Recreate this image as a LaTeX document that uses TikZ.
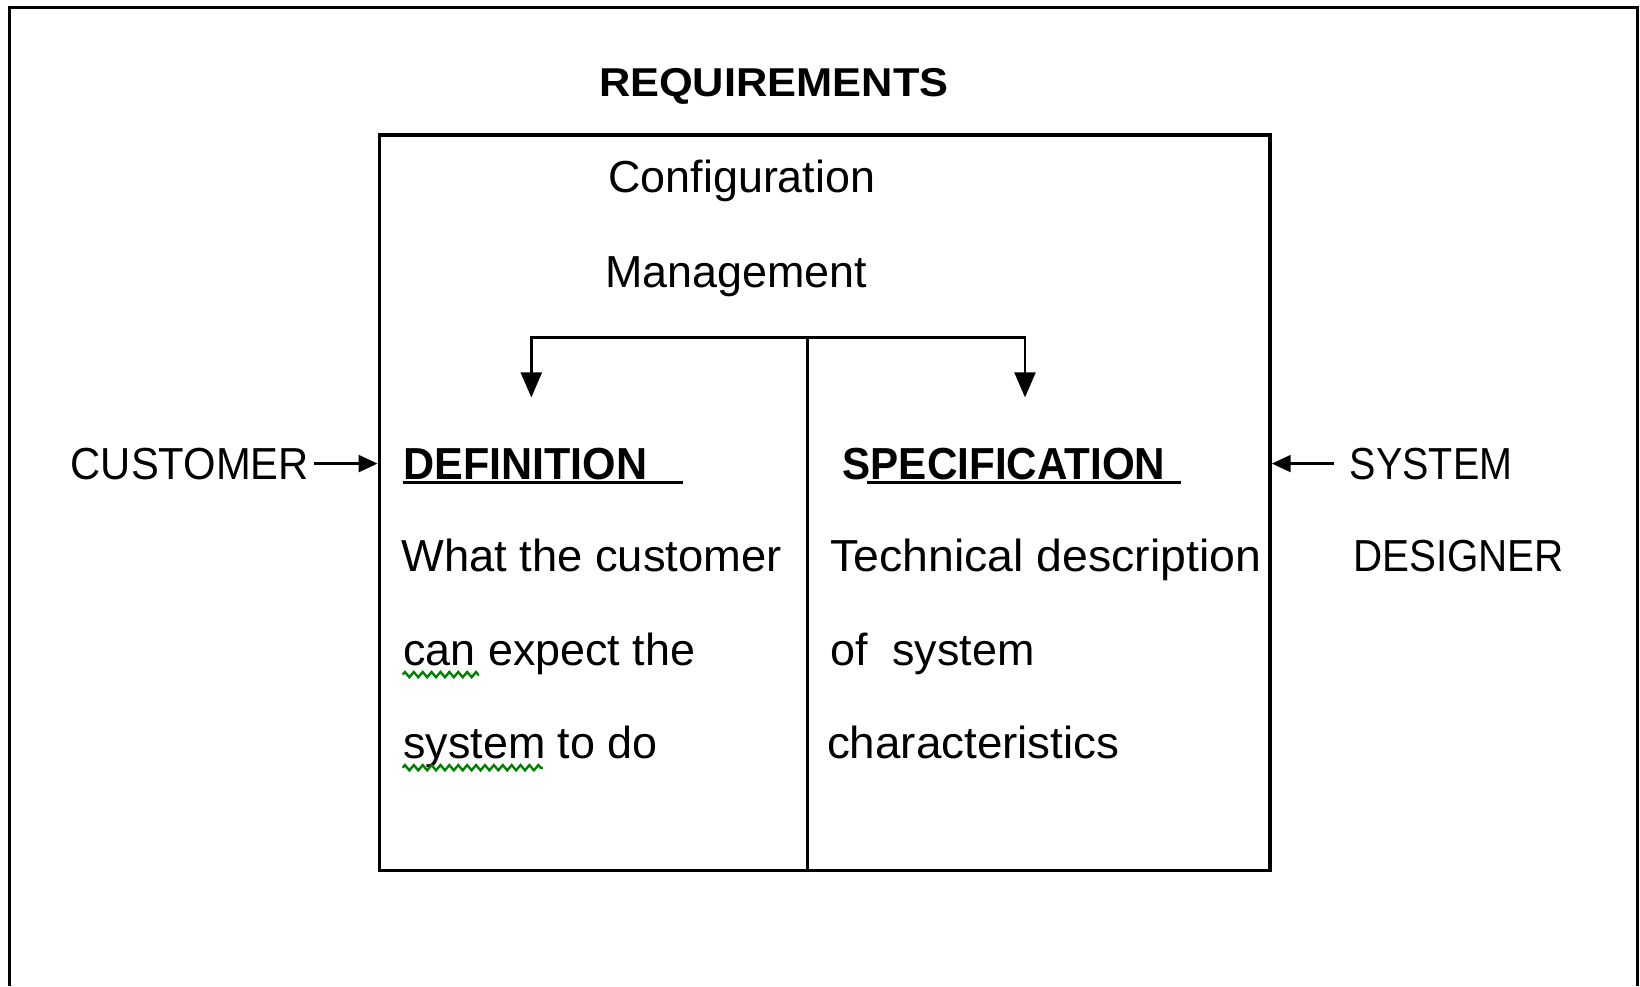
\documentclass[tikz,border=0pt]{standalone}
\usepackage{fontspec}
\setmainfont{Liberation Sans}
\usetikzlibrary{arrows.meta,decorations.pathmorphing}
\begin{document}
\begin{tikzpicture}[x=0.01cm,y=-0.01cm,
  txt/.style={anchor=base west, inner sep=0pt, font=\fontsize{12.2pt}{14pt}\selectfont},
  hd/.style={anchor=base west, inner sep=0pt, font=\fontsize{12.2pt}{14pt}\selectfont\bfseries},
  frame/.style={line width=0.85pt},
  boxline/.style={line width=1pt},
  divline/.style={line width=0.6pt},
  link/.style={line width=0.75pt},
  uline/.style={line width=0.8pt},
  tipbig/.style={-{Triangle[length=0.24cm,width=0.2cm]}},
  tipside/.style={-{Triangle[length=0.18cm,width=0.16cm]}},
  squiggle/.style={draw=green!50!black, line width=0.65pt, decorate,
    decoration={zigzag, segment length=0.085cm, amplitude=0.025cm}}]
\useasboundingbox (0,0) rectangle (1568,943);

% open page frame (no bottom edge)
\draw[frame] (9,943) -- (9,7) -- (1566,7) -- (1566,943);

% requirements box and its centre divider
\node (req) [draw, boxline, inner sep=0pt, anchor=north west,
  minimum width=8.51cm, minimum height=7.03cm] at (361,127) {};
\coordinate (split) at (772,323);
\draw[divline] (split) -- (split |- req.south);

% title and heading
\node[anchor=base west, inner sep=0pt, font=\fontsize{10.95pt}{13pt}\selectfont\bfseries]
  (title) at (572,92) {\scalebox{1.077}[1]{REQUIREMENTS}};
\node[txt] (conf) at (581,184) {Configuration};
\node[txt] (mgmt) at (578,275) {Management};

% branching arrows into both halves
\coordinate (defin) at (508,380);
\coordinate (specin) at (980,380);
\draw[link,tipbig] (split) -| (defin);
\draw[link,tipbig] (split) -| (specin);

% left half: definition
\node[hd] (def) at (385,458) {\scalebox{0.96}[1]{DEFINITION}};
\draw[uline] (385,461) -- (653,461);
\node[txt] (d1) at (383,546) {\scalebox{1.01}[1]{What the customer}};
\node[txt] (d2) at (385,636) {can expect the};
\node[txt] (d3) at (385,725) {system to do};
\draw[squiggle] (385,645) -- (458,645);
\draw[squiggle] (385,734) -- (519,734);

% right half: specification
\node[hd] (spec) at (805,458) {\scalebox{0.94}[1]{SPECIFICATION}};
\draw[uline] (829,461) -- (1129,461);
\node[txt] (s1) at (793,546) {\scalebox{1.035}[1]{Technical description}};
\node[txt] (s2) at (793,636) {of\ \ system};
\node[txt] (s3) at (790,725) {\scalebox{1.02}[1]{characteristics}};

% outside parties
\node[txt] (cust) at (67,458) {\scalebox{0.93}[1]{CUSTOMER}};
\draw[link,tipside,shorten <=0.04cm] (cust.east) -- (cust.east -| req.west);
\node[txt] (sys) at (1290,458) {\scalebox{0.88}[1]{SYSTEM}};
\node[txt] (des) at (1293,546) {\scalebox{0.9}[1]{DESIGNER}};
\draw[link,tipside,shorten <=0.15cm] (sys.west) -- (sys.west -| req.east);
\end{tikzpicture}
\end{document}
